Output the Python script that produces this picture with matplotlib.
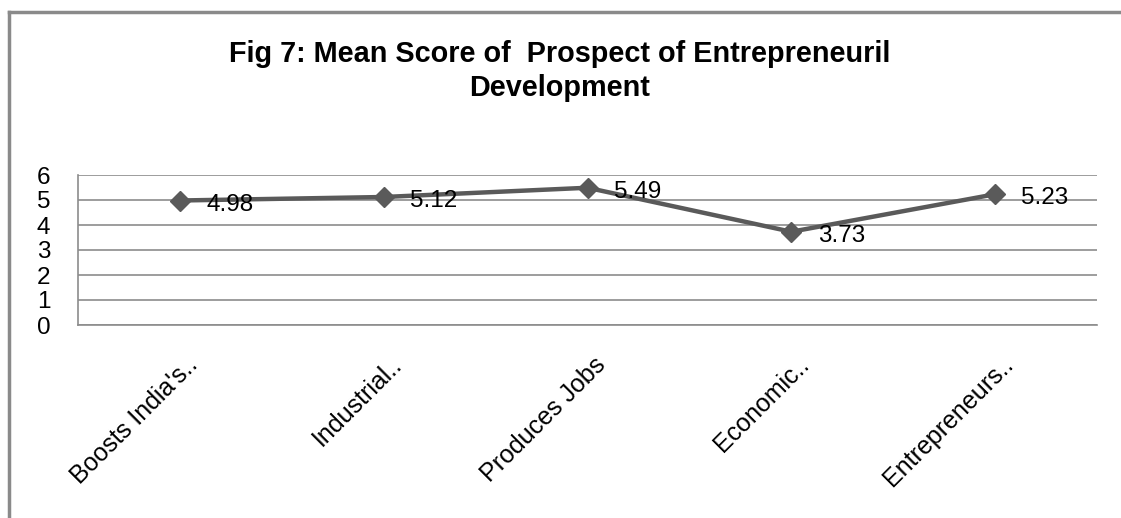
import matplotlib.pyplot as plt
import matplotlib.transforms as mtransforms
from matplotlib.lines import Line2D

plt.rcParams['font.family'] = ['Liberation Sans', 'DejaVu Sans']

categories = ["Boosts India's..", "Industrial..", "Produces Jobs", "Economic..", "Entrepreneurs.."]
mean_scores = [4.98, 5.12, 5.49, 3.73, 5.23]
yticks = [0, 1, 2, 3, 4, 5, 6]

W, H = 1121, 518
fig = plt.figure(figsize=(W / 100, H / 100), dpi=100)
ax = fig.add_axes([78 / W, 1 - 325 / H, (1097 - 78) / W, 150 / H])

x = list(range(len(categories)))
ax.plot(x, mean_scores, color='#5a5a5a', lw=3.2, marker='D', ms=10.5,
        mfc='#5a5a5a', mec='#5a5a5a', zorder=3)
for xi, v in zip(x, mean_scores):
    ax.annotate(f"{v:.2f}", (xi, v), xytext=(19, -3), textcoords='offset points',
                ha='left', va='center', fontsize=17.5, color='black', zorder=4)

ax.set_xlim(-0.5, len(categories) - 0.5)
ax.set_ylim(0, 6)
ax.set_yticks(yticks)
ax.set_yticklabels([str(t) for t in yticks], fontsize=17.5)
ax.set_xticks(x)
ax.set_xticklabels(categories, fontsize=18, rotation=45, ha='right',
                   rotation_mode='anchor')
ax.tick_params(axis='y', length=0, pad=20)
ax.tick_params(axis='x', length=0, pad=14)

# nudge the slanted category labels right/down
shift = mtransforms.ScaledTranslation(6 / 100, -8 / 100, fig.dpi_scale_trans)
for lbl in ax.get_xticklabels():
    lbl.set_transform(lbl.get_transform() + shift)

ax.yaxis.grid(True, color='#8c8c8c', lw=1.2)
ax.set_axisbelow(True)
for side in ['top', 'right']:
    ax.spines[side].set_visible(False)
for side in ['left', 'bottom']:
    ax.spines[side].set_color('#8c8c8c')
    ax.spines[side].set_linewidth(1.2)

fig.text(560 / W, 1 - 71 / H, "Fig 7: Mean Score of  Prospect of Entrepreneuril\nDevelopment",
         ha='center', va='center', fontsize=20.8, fontweight='bold', linespacing=1.3)

# outer chart frame (only top and left edges fall inside the image)
fig.add_artist(Line2D([9 / W, 9 / W], [0, 1 - 12 / H], transform=fig.transFigure,
                      color='#8a8a8a', lw=2.5))
fig.add_artist(Line2D([9 / W, 1], [1 - 12 / H, 1 - 12 / H], transform=fig.transFigure,
                      color='#8a8a8a', lw=2.5))

fig.savefig('out.png', dpi=100, facecolor='white')
